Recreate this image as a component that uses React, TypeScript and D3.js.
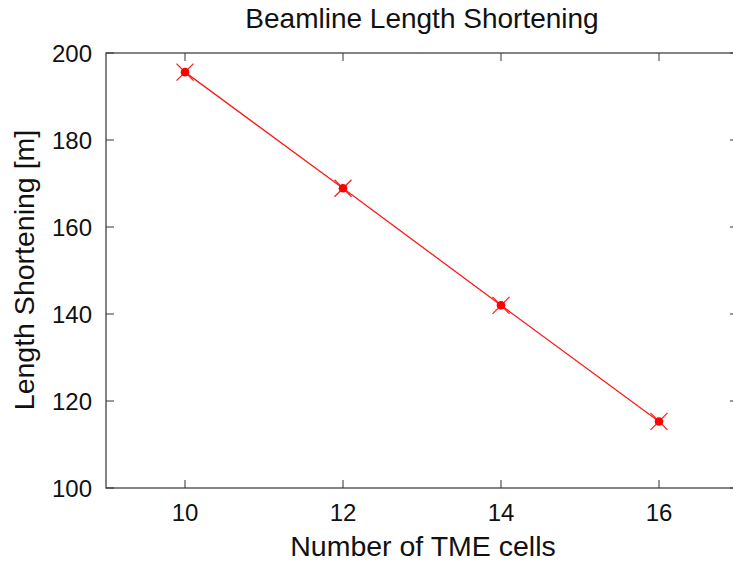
import React from "react";
import * as d3 from "d3";

const cells = [10, 12, 14, 16];
const shortening = [195.6, 168.9, 142.0, 115.3];
const xTicks = [10, 12, 14, 16];
const yTicks = [100, 120, 140, 160, 180, 200];

const W = 733;
const H = 561;
const margin = { left: 106, top: 53, right: 738, bottom: 488 };
const font = "'Liberation Sans', Arial, Helvetica, sans-serif";
const red = "#ff1a1a";

export default function App() {
  const x = d3.scaleLinear().domain([9, 17]).range([margin.left, margin.right]);
  const y = d3.scaleLinear().domain([100, 200]).range([margin.bottom, margin.top]);
  const pts = cells.map((c, i) => [x(c), y(shortening[i])] as [number, number]);
  const line = d3.line()(pts) ?? "";
  const tick = 8;

  return (
    <svg
      width={W}
      height={H}
      style={{ position: "absolute", left: 0, top: 0, background: "#fff" }}
    >
      <rect x={0} y={0} width={W} height={H} fill="#fff" />
      <text x={422} y={28} textAnchor="middle" fontFamily={font} fontSize={28} fill="#111">
        Beamline Length Shortening
      </text>

      {/* frame */}
      <rect
        x={margin.left}
        y={margin.top}
        width={margin.right - margin.left}
        height={margin.bottom - margin.top}
        fill="none"
        stroke="#333"
        strokeWidth={1.2}
      />

      {xTicks.map((t) => (
        <g key={"x" + t}>
          <line x1={x(t)} x2={x(t)} y1={margin.bottom} y2={margin.bottom - tick} stroke="#333" />
          <line x1={x(t)} x2={x(t)} y1={margin.top} y2={margin.top + tick} stroke="#333" />
          <text x={x(t)} y={521} textAnchor="middle" fontFamily={font} fontSize={24} fill="#111">
            {t}
          </text>
        </g>
      ))}
      {yTicks.map((t) => (
        <g key={"y" + t}>
          <line x1={margin.left} x2={margin.left + tick} y1={y(t)} y2={y(t)} stroke="#333" />
          <line x1={margin.right} x2={margin.right - tick} y1={y(t)} y2={y(t)} stroke="#333" />
          <text x={92} y={y(t) + 8.5} textAnchor="end" fontFamily={font} fontSize={24} fill="#111">
            {t}
          </text>
        </g>
      ))}

      <text x={423} y={556} textAnchor="middle" fontFamily={font} fontSize={28.5} fill="#111">
        Number of TME cells
      </text>
      <text
        transform={`translate(34, 270) rotate(-90)`}
        textAnchor="middle"
        fontFamily={font}
        fontSize={28.5}
        fill="#111"
      >
        Length Shortening [m]
      </text>

      <path d={line} fill="none" stroke={red} strokeWidth={1.3} />
      {pts.map(([px, py], i) => (
        <g key={"p" + i}>
          <line x1={px - 8.5} x2={px + 8.5} y1={py - 8.5} y2={py + 8.5} stroke={red} strokeWidth={1.2} />
          <line x1={px - 8.5} x2={px + 8.5} y1={py + 8.5} y2={py - 8.5} stroke={red} strokeWidth={1.2} />
          <circle cx={px} cy={py} r={4.3} fill="#ff0000" />
        </g>
      ))}
    </svg>
  );
}
